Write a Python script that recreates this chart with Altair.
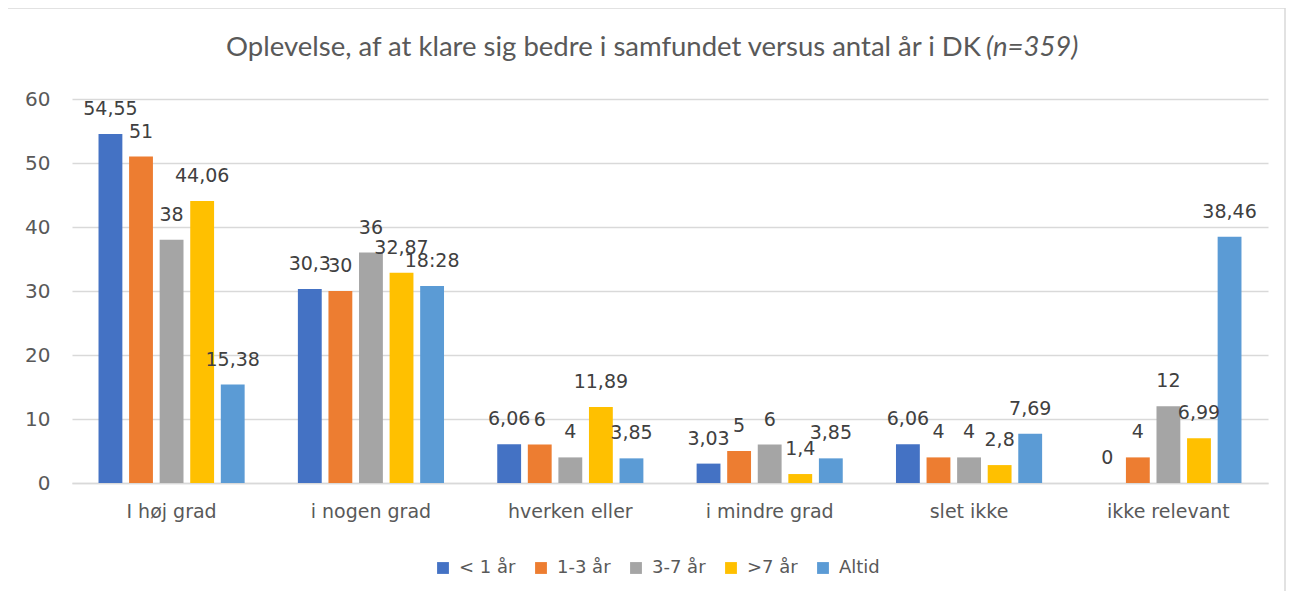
import altair as alt
import pandas as pd

categories = ["I høj grad", "i nogen grad", "hverken eller", "i mindre grad", "slet ikke", "ikke relevant"]
series = ["< 1 år", "1-3 år", "3-7 år", ">7 år", "Altid"]
colors = ["#4472C4", "#ED7D31", "#A5A5A5", "#FFC000", "#5B9BD5"]

v_lt1 = [54.55, 30.3, 6.06, 3.03, 6.06, 0]
v_1_3 = [51, 30, 6, 5, 4, 4]
v_3_7 = [38, 36, 4, 6, 4, 12]
v_gt7 = [44.06, 32.87, 11.89, 1.4, 2.8, 6.99]
v_altid = [15.38, 30.77, 3.85, 3.85, 7.69, 38.46]

lab_lt1 = ["54,55", "30,3", "6,06", "3,03", "6,06", "0"]
lab_1_3 = ["51", "30", "6", "5", "4", "4"]
lab_3_7 = ["38", "36", "4", "6", "4", "12"]
lab_gt7 = ["44,06", "32,87", "11,89", "1,4", "2,8", "6,99"]
lab_altid = ["15,38", "18:28", "3,85", "3,85", "7,69", "38,46"]

title_main = "Oplevelse, af at klare sig bedre i samfundet versus antal år i DK"
title_italic = "(n=359)"

vals = [v_lt1, v_1_3, v_3_7, v_gt7, v_altid]
labs = [lab_lt1, lab_1_3, lab_3_7, lab_gt7, lab_altid]
rows = []
for s, vv, ll in zip(series, vals, labs):
    for c, v, l in zip(categories, vv, ll):
        rows.append({"cat": c, "series": s, "value": v, "label": l})
df = pd.DataFrame(rows)

W, H = 1196, 384
FONT = "DejaVu Sans"
TXT = "#595959"

x_enc = alt.X("cat:N", sort=categories, title=None,
              scale=alt.Scale(paddingInner=0.267, paddingOuter=0.133),
              axis=alt.Axis(labelFont=FONT, labelFontSize=19, labelColor=TXT, labelPadding=19,
                            domainColor="#D9D9D9", domainWidth=1.5, ticks=False, labelAngle=0))
xo_enc = alt.XOffset("series:N", sort=series, scale=alt.Scale(paddingInner=0.22, paddingOuter=0))
y_enc = alt.Y("value:Q", title=None,
              scale=alt.Scale(domain=[0, 60], nice=False),
              axis=alt.Axis(values=[0, 10, 20, 30, 40, 50, 60], labelFont=FONT, labelFontSize=20,
                            labelColor=TXT, domain=False, ticks=False, labelPadding=22,
                            gridColor="#D9D9D9", gridWidth=1.5))

base = alt.Chart(df)

bars = base.mark_bar().encode(
    x=x_enc, xOffset=xo_enc, y=y_enc,
    color=alt.Color("series:N", sort=series, scale=alt.Scale(domain=series, range=colors),
                    legend=alt.Legend(title=None, orient="none", direction="horizontal",
                                      legendX=362, legendY=460, symbolType="square",
                                      symbolSize=140, symbolStrokeWidth=0, labelFont=FONT,
                                      labelFontSize=18, labelColor=TXT, columnPadding=16,
                                      labelOffset=7)),
)

labels = base.mark_text(font=FONT, fontSize=19, color="#404040", baseline="alphabetic", dy=-19).encode(
    x=alt.X("cat:N", sort=categories), xOffset=alt.XOffset("series:N", sort=series),
    y="value:Q", text="label:N",
)

border = alt.Chart(pd.DataFrame({"k": [0]})).mark_rect(fill=None, stroke="#D9D9D9", strokeWidth=1.5).encode(
    x=alt.value(-65), x2=alt.value(1213), y=alt.value(-91), y2=alt.value(560)
)

t1 = alt.Chart(pd.DataFrame({"t": [title_main]})).mark_text(
    font="Lato", fontSize=27.5, color=TXT, align="right", baseline="middle").encode(
    text="t:N", x=alt.value(909), y=alt.value(-51))
t2 = alt.Chart(pd.DataFrame({"t": [title_italic]})).mark_text(
    font="Lato", fontSize=27.5, color=TXT, align="left", baseline="middle", fontStyle="italic").encode(
    text="t:N", x=alt.value(914), y=alt.value(-51))

chart = alt.layer(border, bars, labels, t1, t2).properties(
    width=W, height=H,
    autosize=alt.AutoSizeParams(type="none"),
    padding={"left": 64, "top": 91, "right": 19, "bottom": 108},
).configure_view(stroke=None).configure_axis(grid=True)

chart = chart.configure_axisX(grid=False)

chart.save("out.html", embed_options={"renderer": "svg", "actions": False})
